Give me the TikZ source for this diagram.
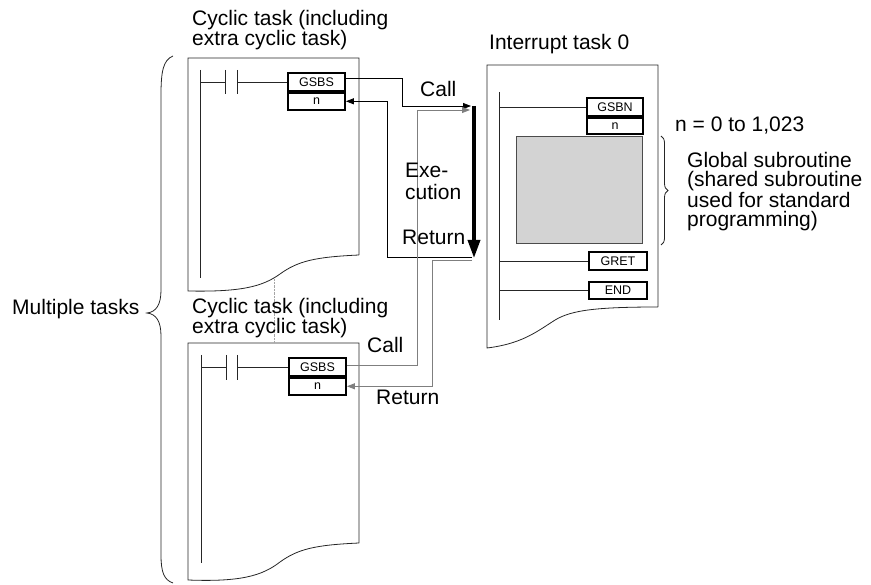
\documentclass[tikz,border=0pt]{standalone}
\usepackage{fontspec}
\setmainfont{Liberation Sans}
\usepackage{tikz}
\usetikzlibrary{arrows.meta,decorations.pathreplacing}
\definecolor{subgray}{HTML}{D3D3D3}
\definecolor{linegray}{HTML}{7F7F7F}

\begin{document}
\begin{tikzpicture}[x=1pt,y=-1pt,
  paper/.style={draw=black!85,line width=0.8pt},
  insbox/.style={draw,line width=1.8pt,minimum width=57pt,inner sep=0pt,font=\fontsize{12.5}{12.5}\selectfont},
  lbl/.style={inner sep=0pt,align=left,font=\fontsize{21}{19}\selectfont},
  callblk/.style={draw=black,line width=0.8pt,-{Triangle[length=8pt,width=6pt]}},
  callgry/.style={draw=linegray,line width=0.8pt,-{Triangle[length=8pt,width=6pt]}}]
\useasboundingbox (0,0) rectangle (871,585);

% cyclic task 1
\draw[paper] (359,255) -- (359,58) -- (188,58) -- (188,291) .. controls (240,292) and (262,287) .. (280,274) .. controls (298,261) and (315,257) .. (359,255);
\draw[paper] (200,70) -- (200,278);
\node[insbox,minimum height=18pt] (gsbsA) at (316.5,82) {GSBS};
\node[insbox,minimum height=17pt,anchor=north] (nA) at (gsbsA.south) {n};
\draw[paper] (200,82) -- (225,82) (225,70) -- (225,94) (237,70) -- (237,94);
\draw[paper] (237,82) -- (gsbsA.west);

% cyclic task 2
\draw[paper] (359,543) -- (359,343) -- (188,343) -- (188,580) .. controls (240,582) and (262,576) .. (280,562) .. controls (298,549) and (315,545) .. (359,543);
\draw[paper] (201,355) -- (201,563);
\node[insbox,minimum height=18pt] (gsbsB) at (317.5,367) {GSBS};
\node[insbox,minimum height=17pt,anchor=north] (nB) at (gsbsB.south) {n};
\draw[paper] (201,367) -- (226,367) (226,355) -- (226,380) (237,355) -- (237,380);
\draw[paper] (237,367) -- (gsbsB.west);
\draw[linegray!70,densely dotted] (274,279) -- (274,343);

% interrupt task 0
\draw[paper] (658,307) -- (658,65) -- (487,65) -- (487,348) .. controls (520,344) and (535,333) .. (552,322) .. controls (568,311) and (590,307) .. (658,307);
\draw[paper] (499,92) -- (499,320);
\node[insbox,minimum width=56pt,minimum height=18pt] (gsbn) at (615,107) {GSBN};
\node[insbox,minimum width=56pt,minimum height=16pt,anchor=north] (nI) at (gsbn.south) {n};
\node[draw=black!70,fill=subgray,line width=0.8pt,minimum width=126pt,minimum height=107pt,inner sep=0pt] (sub) at (579,189.5) {};
\node[insbox,minimum width=58pt,minimum height=18pt] (gret) at (618,261) {GRET};
\node[insbox,minimum width=58pt,minimum height=17pt] (endI) at (618,290.5) {END};
\draw[paper] (499,107) -- (gsbn.west);
\draw[paper] (499,261) -- (gret.west);
\draw[paper] (499,290.5) -- (endI.west);
\draw[paper,decorate,decoration={brace,amplitude=7pt}] (661,136) -- (661,245);

% execution
\coordinate (exeTop) at (474,106);
\coordinate (exeBot) at (474,258);
\coordinate (callinA) at (471,106);
\coordinate (callinB) at (470,110);
\coordinate (retA) at (472,257);
\coordinate (retB) at (472,260);
\draw[line width=3.5pt,-{Triangle[length=18pt,width=12pt]}] (exeTop) -- (exeBot);
\draw[callblk] ([yshift=4pt]gsbsA.east) -| (402,106) -- (callinA);
\draw[callblk] (retA) -- (387,257) |- (nA.east);
\draw[callgry] ([yshift=2pt]gsbsB.east) -| (417,110) -- (callinB);
\draw[callgry] (retB) -- (432,260) |- (nB.east);

% braces
\draw[paper] (173,56) .. controls (163,60) and (161,72) .. (161,95) -- (161,290) .. controls (161,305) and (156,312) .. (147,313) .. controls (156,314) and (161,321) .. (161,336) -- (161,555) .. controls (161,572) and (164,580) .. (173,583);

% labels
\node[lbl,anchor=north west] (cycA) at (192,10) {Cyclic task (including\\extra cyclic task)};
\node[lbl,anchor=north west] (cycB) at (192,298) {Cyclic task (including\\extra cyclic task)};
\node[lbl,anchor=base west] (intT) at (489,50) {Interrupt task 0};
\node[lbl,anchor=base west] (callA) at (420,97) {Call};
\node[lbl,anchor=north west,font=\fontsize{21}{22}\selectfont] (exe) at (405,163) {Exe-\\cution};
\node[lbl,anchor=base west] (retAl) at (402,245) {Return};
\node[lbl,anchor=base west] (callB) at (367,353) {Call};
\node[lbl,anchor=base west] (retBl) at (376,405) {Return};
\node[lbl,anchor=base west] (nrange) at (675,132) {n = 0 to 1,023};
\node[lbl,anchor=north west,font=\fontsize{21}{19.5}\selectfont] (glob) at (687,152) {Global subroutine\\(shared subroutine\\used for standard\\programming)};
\node[lbl,anchor=base west] (multi) at (12,315) {Multiple tasks};
\end{tikzpicture}
\end{document}
